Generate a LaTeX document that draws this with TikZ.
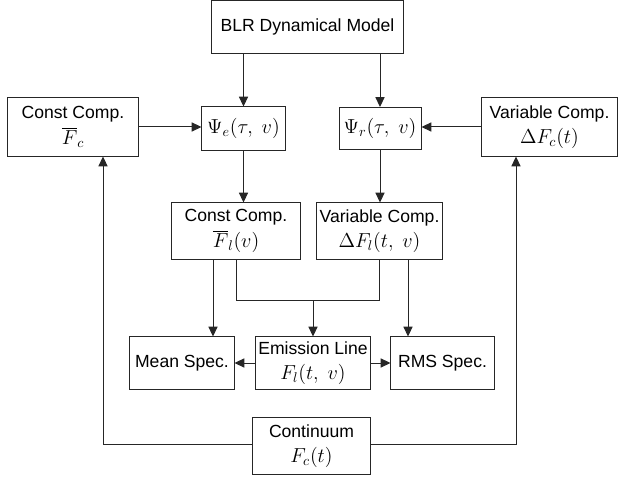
\documentclass[tikz,border=0pt]{standalone}
\usepackage[no-math]{fontspec}
\setmainfont{Liberation Sans}
\usetikzlibrary{arrows.meta,calc}
\newcommand{\mth}[1]{{\fontsize{14}{16}\selectfont$#1$}}
\begin{document}
\begin{tikzpicture}[x=0.025cm,y=0.025cm,line width=.7pt,
  font=\fontsize{12.5}{15}\selectfont,
  box/.style={draw=black!85,rectangle,align=center,inner sep=1pt},
  arr/.style={draw=black!85,-{Triangle[length=7pt,width=6.5pt]}}]
\useasboundingbox (0,0) rectangle (618,478);
\node[box,minimum width=4.8cm,minimum height=1.3cm] (blr) at (307.5,451) {BLR Dynamical Model};
\node[box,minimum width=2.075cm,minimum height=1.075cm] (psie) at (243.5,349.5) {\mth{\Psi_e(\tau,\ v)}};
\node[box,minimum width=2.05cm,minimum height=1.05cm] (psir) at (380,349.5) {\mth{\Psi_r(\tau,\ v)}};
\node[box,minimum width=3.25cm,minimum height=1.45cm] (lconst) at (73,351) {Const Comp.\\[3pt]\mth{\overline{F}_c}};
\node[box,minimum width=3.375cm,minimum height=1.45cm] (rvar) at (549.5,351) {Variable Comp.\\[3pt]\mth{\Delta F_c(t)}};
\node[box,minimum width=3.2cm,minimum height=1.4cm] (mconst) at (236,247) {Const Comp.\\[3pt]\mth{\overline{F}_l(v)}};
\node[box,minimum width=3.125cm,minimum height=1.4cm] (mvar) at (379.5,247) {Variable Comp.\\[3pt]\mth{\Delta F_l(t,\ v)}};
\node[box,minimum width=2.6cm,minimum height=1.3cm] (mean) at (182,115) {Mean Spec.};
\node[box,minimum width=2.85cm,minimum height=1.3cm] (emis) at (313,115) {Emission Line\\[3pt]\mth{F_l(t,\ v)}};
\node[box,minimum width=2.575cm,minimum height=1.3cm] (rms) at (442.5,115) {RMS Spec.};
\node[box,minimum width=2.925cm,minimum height=1.4cm] (cont) at (311.5,32) {Continuum\\[3pt]\mth{F_c(t)}};
% model to kernels
\draw[arr] (psie.north |- blr.south) -- (psie.north);
\draw[arr] (psir.north |- blr.south) -- (psir.north);
\draw[arr] (lconst.east) -- (lconst.east -| psie.west);
\draw[arr] (rvar.west) -- (rvar.west -| psir.east);
\draw[arr] (psie.south) -- (psie.south |- mconst.north);
\draw[arr] (psir.south) -- (psir.south |- mvar.north);
% line components to spectra
\draw[arr] ([xshift=-0.575cm]mconst.south) coordinate (ms) -- (ms |- mean.north);
\draw[arr] ([xshift=0.7125cm]mvar.south) coordinate (vs) -- (vs |- rms.north);
\coordinate (jn) at ($(emis.north)+(0,0.9cm)$);
\draw[draw=black!85] (mconst.south) |- (jn) -| (mvar.south);
\draw[arr] (jn) -- (emis.north);
\draw[arr] (emis.west) -- (mean.east);
\draw[arr] (emis.east) -- (rms.west);
% continuum feedback
\draw[arr] ([yshift=0.05cm]cont.west) -| ([xshift=0.75cm]lconst.south);
\draw[arr] ([yshift=0.05cm]cont.east) -| ([xshift=-0.8375cm]rvar.south);
\end{tikzpicture}
\end{document}
